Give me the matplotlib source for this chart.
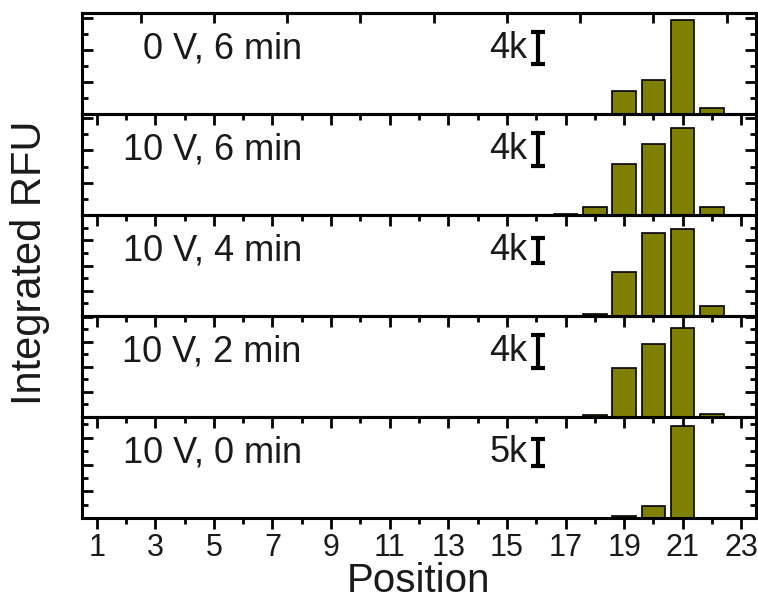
import matplotlib
matplotlib.use("Agg")
import matplotlib.pyplot as plt
from matplotlib.ticker import MultipleLocator, FixedLocator

plt.rcParams['font.family'] = ['Liberation Sans', 'DejaVu Sans']

# ---- data ----
positions = [17, 18, 19, 20, 21, 22]
panel_labels = ["0 V, 6 min", "10 V, 6 min", "10 V, 4 min", "10 V, 2 min", "10 V, 0 min"]
rfu_0V_6min = [0, 0, 2900, 4300, 11700, 760]
rfu_10V_6min = [120, 980, 6300, 8800, 10800, 980]
rfu_10V_4min = [0, 270, 7000, 13100, 13800, 1600]
rfu_10V_2min = [0, 270, 5900, 8800, 10700, 400]
rfu_10V_0min = [0, 0, 320, 2200, 17200, 0]
scale_bar_labels = ["4k", "4k", "4k", "4k", "5k"]
scale_bar_values = [4000, 4000, 4000, 4000, 5000]
y_max = [12600, 12500, 16000, 12100, 18900]
y_major = [4000, 4000, 4000, 3000, 5000]
x_tick_labels = [str(v) for v in range(1, 24, 2)]

series = [rfu_0V_6min, rfu_10V_6min, rfu_10V_4min, rfu_10V_2min, rfu_10V_0min]

W, H = 758, 601
fig = plt.figure(figsize=(W / 100, H / 100), dpi=100)

left_px, right_px = 82, 756
top_px, bottom_px = 13, 518
n = len(series)
ph = (bottom_px - top_px) / n
text_color = '#1a1a1a'

axes = []
for i in range(n):
    y_top = top_px + i * ph
    ax = fig.add_axes([left_px / W, 1 - (y_top + ph) / H, (right_px - left_px) / W, ph / H])
    ax.patch.set_visible(False)
    axes.append(ax)

for i, ax in enumerate(axes):
    vals = series[i]
    ax.bar(positions, vals, width=0.8, color='#808000', edgecolor='black', linewidth=1.2, zorder=2)
    ax.set_xlim(0.5, 23.5)
    ax.set_ylim(0, y_max[i])
    for s in ax.spines.values():
        s.set_linewidth(2.2)
    # x ticks
    ax.xaxis.set_major_locator(FixedLocator(list(range(1, 24, 2))))
    ax.xaxis.set_minor_locator(FixedLocator(list(range(2, 24, 2))))
    ax.tick_params(axis='x', which='major', direction='out', length=8, width=2, bottom=True, top=False)
    ax.tick_params(axis='x', which='minor', direction='out', length=4, width=2, bottom=True, top=False)
    # y ticks
    ax.yaxis.set_major_locator(MultipleLocator(y_major[i]))
    ax.yaxis.set_minor_locator(MultipleLocator(y_major[i] / 2))
    ax.tick_params(axis='y', which='major', direction='in', length=8, width=2, left=True, right=True,
                   labelleft=False)
    ax.tick_params(axis='y', which='minor', direction='in', length=4.5, width=2, left=True, right=True)
    if i < n - 1:
        ax.tick_params(axis='x', labelbottom=False)
    else:
        ax.set_xticklabels(x_tick_labels)
        ax.tick_params(axis='x', which='major', labelsize=22, pad=3, labelcolor=text_color)
    # panel label
    ax.text(8.0, 0.64, panel_labels[i], transform=ax.get_xaxis_transform(), ha='right', va='center',
            fontsize=26, color=text_color)
    # scale bar
    yc = 0.65 * y_max[i]
    ax.errorbar([16.07], [yc], yerr=[scale_bar_values[i] / 2], fmt='none', ecolor='black',
                elinewidth=3.0, capsize=5, capthick=3.0, zorder=3)
    ax.text(15.7, yc, scale_bar_labels[i], ha='right', va='center', fontsize=26, color=text_color)

# top ticks of first panel
sec = axes[0].secondary_xaxis('top')
sec.xaxis.set_major_locator(FixedLocator([2.5 * k for k in range(1, 10)]))
sec.tick_params(axis='x', direction='in', length=7, width=2, labeltop=False)
sec.spines['top'].set_linewidth(2.2)

fig.text(30 / W, 1 - 263 / H, "Integrated RFU", rotation=90, ha='center', va='center', fontsize=30,
         color=text_color)
fig.text((left_px + right_px) / 2 / W, 1 - 581 / H, "Position", ha='center', va='center', fontsize=29,
         color=text_color)

fig.savefig("out.png", dpi=100)
